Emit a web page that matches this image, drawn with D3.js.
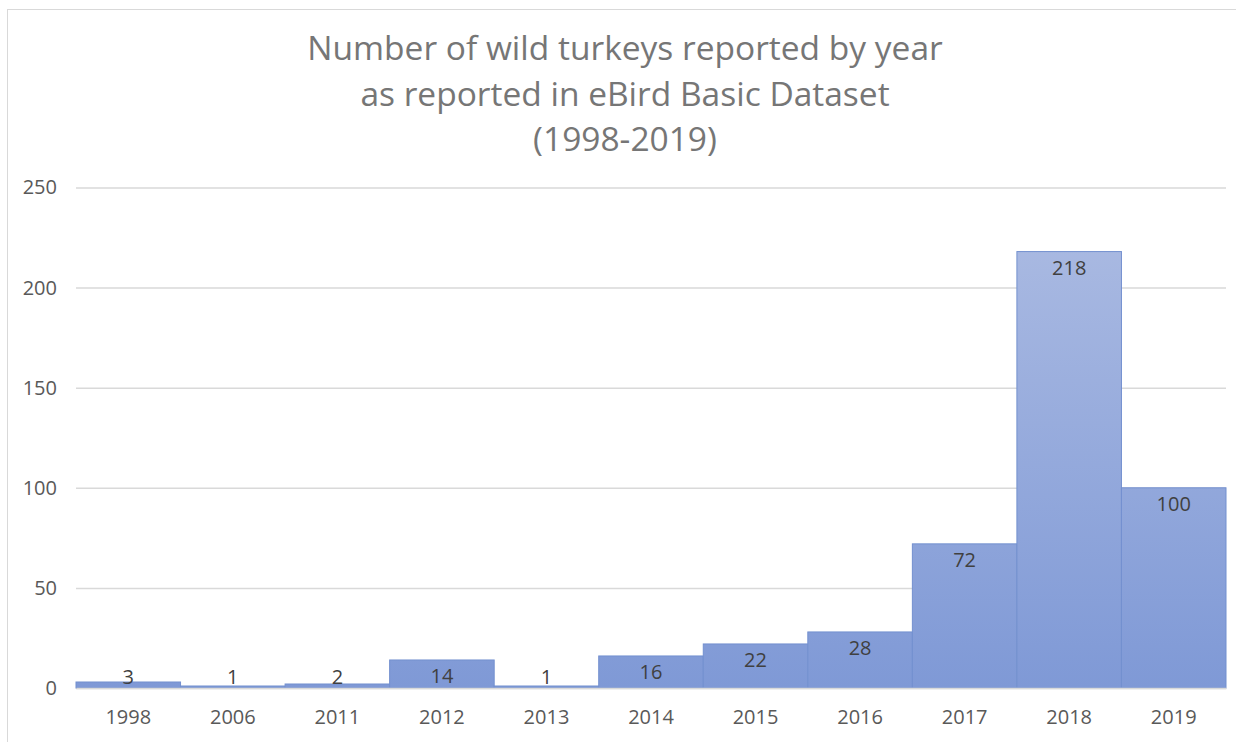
<!DOCTYPE html>
<html>
<head>
<meta charset="utf-8">
<script src="https://cdn.jsdelivr.net/npm/d3@7"></script>
<style>
  body { margin: 0; background: #fff; }
  text { font-family: "Open Sans", "Noto Sans", sans-serif; }
</style>
</head>
<body>
<div id="chart"></div>
<script>
// Data
const years = ["1998", "2006", "2011", "2012", "2013", "2014", "2015", "2016", "2017", "2018", "2019"];
const counts = [3, 1, 2, 14, 1, 16, 22, 28, 72, 218, 100];
const yTicks = [0, 50, 100, 150, 200, 250];
const titleLines = ["Number of wild turkeys reported by year", "as reported in eBird Basic Dataset", "(1998-2019)"];

const data = years.map((y, i) => ({year: y, count: counts[i]}));

const width = 1236, height = 742;
const margin = {top: 187.5, bottom: 54, left: 76, right: 10};

const svg = d3.select("#chart")
  .append("svg")
  .attr("width", width)
  .attr("height", height);

// chart frame
svg.append("rect")
  .attr("x", 7.5).attr("y", 9.5)
  .attr("width", width).attr("height", height)
  .attr("fill", "#fff")
  .attr("stroke", "#d9d9d9");

const x = d3.scaleBand()
  .domain(years)
  .range([margin.left, width - margin.right])
  .padding(0);

const y = d3.scaleLinear()
  .domain([0, 250])
  .range([height - margin.bottom, margin.top]);

// gradient fill for bars
const defs = svg.append("defs");
const grad = defs.append("linearGradient")
  .attr("id", "barGrad")
  .attr("gradientUnits", "userSpaceOnUse")
  .attr("x1", 0).attr("x2", 0)
  .attr("y1", y(250)).attr("y2", y(0));
grad.append("stop").attr("offset", "0%").attr("stop-color", "#aebde3");
grad.append("stop").attr("offset", "100%").attr("stop-color", "#7f99d6");

// Title
svg.append("g").selectAll("text")
  .data(titleLines)
  .join("text")
  .attr("x", 625)
  .attr("y", (d, i) => 60 + i * 45.5)
  .attr("text-anchor", "middle")
  .attr("fill", "#767676")
  .style("font-size", "33.5px")
  .text(d => d);

// gridlines + y labels
const yAxis = svg.append("g")
  .attr("transform", `translate(${margin.left},0)`)
  .call(d3.axisLeft(y).tickValues(yTicks).tickSize(-(width - margin.left - margin.right)).tickPadding(19));
yAxis.select(".domain").remove();
yAxis.selectAll(".tick line").attr("stroke", "#d9d9d9").attr("stroke-width", 1.5);
yAxis.selectAll(".tick text")
  .attr("fill", "#595959")
  .style("font-size", "20px")
  .style("font-family", "'Open Sans', sans-serif");

// Bars
svg.append("g").selectAll("rect")
  .data(data)
  .join("rect")
  .attr("x", d => x(d.year))
  .attr("y", d => y(d.count))
  .attr("width", x.bandwidth())
  .attr("height", d => y(0) - y(d.count))
  .attr("fill", "url(#barGrad)")
  .attr("stroke", "#7390cf")
  .attr("stroke-width", 1);

// x axis
const xAxis = svg.append("g")
  .attr("transform", `translate(0,${y(0)})`)
  .call(d3.axisBottom(x).tickSize(0).tickPadding(22));
xAxis.select(".domain").attr("stroke", "#d9d9d9").attr("stroke-width", 1.5);
xAxis.selectAll(".tick text")
  .attr("fill", "#595959")
  .style("font-size", "20px")
  .style("font-family", "'Open Sans', sans-serif");

// Data labels, inside end
svg.append("g").selectAll("text")
  .data(data)
  .join("text")
  .attr("x", d => x(d.year) + x.bandwidth() / 2)
  .attr("y", d => Math.min(y(d.count) + 16, y(0) - 11))
  .attr("dy", "0.35em")
  .attr("text-anchor", "middle")
  .attr("fill", "#404040")
  .style("font-size", "20px")
  .text(d => d.count);
</script>
</body>
</html>
